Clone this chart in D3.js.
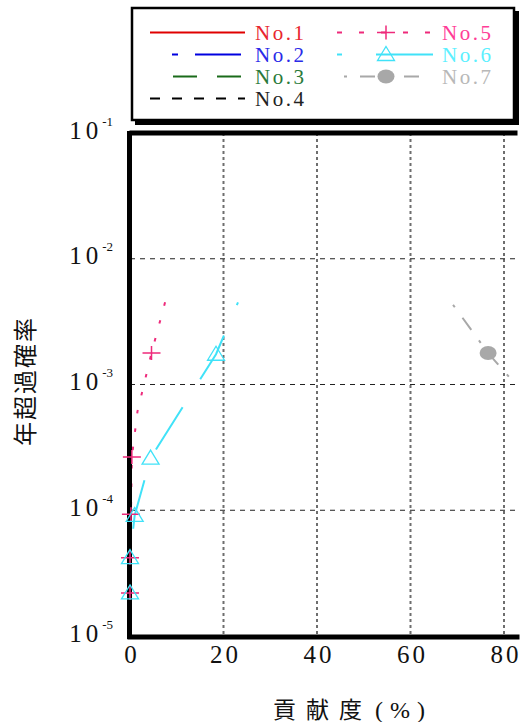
<!DOCTYPE html>
<html>
<head>
<meta charset="utf-8">
<script src="https://cdn.jsdelivr.net/npm/d3@7"></script>
<style>
  body { margin: 0; background: #fff; }
  svg { display: block; }
  text { font-family: "Liberation Serif", "DejaVu Serif", serif; }
  .cjk { font-family: "Noto Sans CJK JP", sans-serif; }
</style>
</head>
<body>
<div id="chart"></div>
<script>
// series data (contribution %, annual exceedance probability)
const seriesNames = ["No.1", "No.2", "No.3", "No.4", "No.5", "No.6", "No.7"];
const no1X = [], no1Y = [];
const no2X = [], no2Y = [];
const no3X = [], no3Y = [];
const no4X = [], no4Y = [];
const no5X = [0, 0, 0.2, 0.4, 1.6, 4.6, 7.5];
const no5Y = [2.2e-5, 4.2e-5, 9.3e-5, 2.65e-4, 6.1e-4, 1.78e-3, 4.5e-3];
const no5Marked = [1, 1, 1, 1, 0, 1, 0];
const no6X = [0, 0, 1.0, 4.4, 18.4, 23.1];
const no6Y = [2.2e-5, 4.2e-5, 9.1e-5, 2.6e-4, 1.74e-3, 4.5e-3];
const no6Marked = [1, 1, 1, 1, 1, 0];
const no7X = [69.1, 76.6, 82.5];
const no7Y = [4.3e-3, 1.78e-3, 1.0e-3];
const no7Marked = [0, 1, 0];

const xTicks = [0, 20, 40, 60, 80];
const yTickExps = [-5, -4, -3, -2, -1];
const yGridExps = [-4, -3, -2];

const width = 520, height = 722;

const svg = d3.select("#chart").append("svg")
  .attr("width", width)
  .attr("height", height);

const x = d3.scaleLinear().domain([0, 80]).range([130, 504]);
const y = d3.scaleLog().domain([1e-5, 1e-1]).range([636, 133]);

// grid
svg.selectAll(".vgrid")
  .data(xTicks.slice(1))
  .enter().append("line")
  .attr("class", "vgrid")
  .attr("x1", d => x(d)).attr("x2", d => x(d))
  .attr("y1", y(1e-1)).attr("y2", y(1e-5))
  .attr("stroke", "#6e6e6e")
  .attr("stroke-width", 2)
  .attr("stroke-dasharray", "3,3");

svg.selectAll(".hgrid")
  .data(yGridExps)
  .enter().append("line")
  .attr("class", "hgrid")
  .attr("x1", x(0)).attr("x2", width)
  .attr("y1", d => y(Math.pow(10, d))).attr("y2", d => y(Math.pow(10, d)))
  .attr("stroke", "#222")
  .attr("stroke-width", 1.2)
  .attr("stroke-dasharray", "5,5");

// series; endDot = length of dash left visible at the end of the path
const series = [
  { xs: no1X, ys: no1Y, color: "#e00000", dash: null },
  { xs: no2X, ys: no2Y, color: "#0000e0", dash: "47,17" },
  { xs: no3X, ys: no3Y, color: "#1a6b1a", dash: "24,20" },
  { xs: no4X, ys: no4Y, color: "#000", dash: "10,12" },
  { xs: no5X, ys: no5Y, marked: no5Marked, color: "#ee2a7b", dash: [3.5, 15], marker: "plus", endDot: 3.5 },
  { xs: no6X, ys: no6Y, marked: no6Marked, color: "#40e2f8", dash: [50, 33], marker: "tri", endDot: 3 },
  { xs: no7X, ys: no7Y, marked: no7Marked, color: "#a8a8a8", dash: [3, 13, 15, 13], marker: "ell" }
];

const line = d3.line()
  .x(d => x(d[0]))
  .y(d => y(d[1]));

series.forEach(s => {
  const pts = s.xs.map((v, i) => [v, s.ys[i]]);
  if (!pts.length) return;
  const p = svg.append("path")
    .attr("d", line(pts))
    .attr("fill", "none")
    .attr("stroke", s.color)
    .attr("stroke-width", 2)
    .attr("stroke-dasharray", Array.isArray(s.dash) ? s.dash.join(",") : s.dash);
  if (s.endDot) {
    const period = d3.sum(s.dash);
    const L = p.node().getTotalLength();
    const off = (((s.endDot - L) % period) + period) % period;
    p.attr("stroke-dashoffset", off);
  }
});

// frame
svg.append("path")
  .attr("d", `M${x(0)},${y(1e-1)} H518 M${x(0)},${y(1e-1) - 2} V${y(1e-5) + 3} M${x(0) - 2},${y(1e-5) + 1} H${width}`)
  .attr("transform", "translate(-0.5,0)")
  .attr("fill", "none")
  .attr("stroke", "#000")
  .attr("stroke-width", 5);

function drawMarker(g, type, cx, cy, color) {
  if (type === "plus") {
    g.append("path")
      .attr("d", `M${cx - 9},${cy} H${cx + 9} M${cx},${cy - 7} V${cy + 7}`)
      .attr("stroke", color).attr("stroke-width", 1.5).attr("fill", "none");
  } else if (type === "tri") {
    g.append("path")
      .attr("d", `M${cx},${cy - 8} L${cx + 8.5},${cy + 6} L${cx - 8.5},${cy + 6} Z`)
      .attr("stroke", color).attr("stroke-width", 1.3).attr("fill", "none");
  } else if (type === "ell") {
    g.append("ellipse")
      .attr("cx", cx).attr("cy", cy).attr("rx", 8.5).attr("ry", 7)
      .attr("fill", color);
  }
}

// markers
series.forEach(s => {
  if (!s.marker) return;
  s.xs.forEach((v, i) => {
    if (s.marked[i]) drawMarker(svg, s.marker, x(v), y(s.ys[i]), s.color);
  });
});

// x axis labels
const xAxis = d3.axisBottom(x).tickValues(xTicks).tickSize(0).tickPadding(0);
const gx = svg.append("g").attr("transform", "translate(0,663)").call(xAxis);
gx.select(".domain").remove();
gx.selectAll("text")
  .attr("dy", 0)
  .attr("y", 0)
  .attr("dx", "1.5")
  .style("font-family", "Liberation Serif, serif")
  .style("font-size", "25px")
  .style("letter-spacing", "3px")
  .attr("fill", "#111");

// y axis labels with superscript exponent
const yAxis = d3.axisLeft(y).tickValues(yTickExps.map(e => Math.pow(10, e))).tickSize(0).tickFormat("");
const gy = svg.append("g").call(yAxis);
gy.select(".domain").remove();
gy.selectAll(".tick").each(function(d) {
  const e = Math.round(Math.log10(d));
  const t = d3.select(this).append("text")
    .attr("x", 113).attr("y", 5)
    .attr("text-anchor", "end")
    .attr("fill", "#111")
    .style("font-family", "Liberation Serif, serif");
  t.append("tspan").text("10").style("font-size", "25px").style("letter-spacing", "4px");
  t.append("tspan").text(String(e)).attr("dy", -13).style("font-size", "13px");
});

// axis titles
const xt = svg.append("text")
  .attr("x", 273).attr("y", 718)
  .attr("fill", "#111");
xt.append("tspan")
  .attr("class", "cjk")
  .style("font-size", "23px")
  .style("letter-spacing", "10px")
  .text("貢献度");
xt.append("tspan")
  .attr("dx", 3)
  .style("font-family", "Liberation Serif, serif")
  .style("font-size", "24px")
  .style("letter-spacing", "7px")
  .text("(%)");

svg.append("text")
  .attr("class", "cjk")
  .attr("transform", "translate(34,381) rotate(-90)")
  .attr("text-anchor", "middle")
  .style("font-size", "24px")
  .style("letter-spacing", "2px")
  .attr("fill", "#111")
  .text("年超過確率");

// legend
const legendItems = [
  { name: seriesNames[0], col: 0, row: 0, x1: 150, x2: 245, color: "#e00000", dash: null, text: "#e8262e" },
  { name: seriesNames[1], col: 0, row: 1, x1: 172, x2: 241, color: "#0000e0", dash: "6,17,47", text: "#2a2ae8" },
  { name: seriesNames[2], col: 0, row: 2, x1: 173, x2: 242, color: "#1a6b1a", dash: "24,20", text: "#2a7a3a" },
  { name: seriesNames[3], col: 0, row: 3, x1: 150, x2: 245, color: "#000", dash: "10,12", text: "#222" },
  { name: seriesNames[4], col: 1, row: 0, x1: 337, x2: 433, color: "#ee2a7b", dash: "5,17", text: "#ff3d97", marker: "plus" },
  { name: seriesNames[5], col: 1, row: 1, x1: 337, x2: 433, color: "#40e2f8", dash: "5,34,60", text: "#5cf0ff", marker: "tri" },
  { name: seriesNames[6], col: 1, row: 2, x1: 344, x2: 420, color: "#a8a8a8", dash: "3,13,15,13", text: "#b8b8b8", marker: "ell" }
];

const legend = svg.append("g");
legend.append("rect")
  .attr("x", 135).attr("y", 11).attr("width", 384).attr("height", 114)
  .attr("fill", "#000");
legend.append("rect")
  .attr("x", 132).attr("y", 8).attr("width", 382).attr("height", 112)
  .attr("fill", "#fff").attr("stroke", "#000").attr("stroke-width", 2.5);

legendItems.forEach(it => {
  const ly = 32.5 + it.row * 22;
  legend.append("line")
    .attr("x1", it.x1).attr("x2", it.x2)
    .attr("y1", ly).attr("y2", ly)
    .attr("stroke", it.color).attr("stroke-width", 2)
    .attr("stroke-dasharray", it.dash);
  if (it.marker) drawMarker(legend, it.marker, 386, ly, it.color);
  legend.append("text")
    .attr("x", it.col === 0 ? 255 : 442)
    .attr("y", ly + 7.5)
    .style("font-size", "21px")
    .style("letter-spacing", "2.5px")
    .attr("fill", it.text)
    .text(it.name);
});
</script>
</body>
</html>
